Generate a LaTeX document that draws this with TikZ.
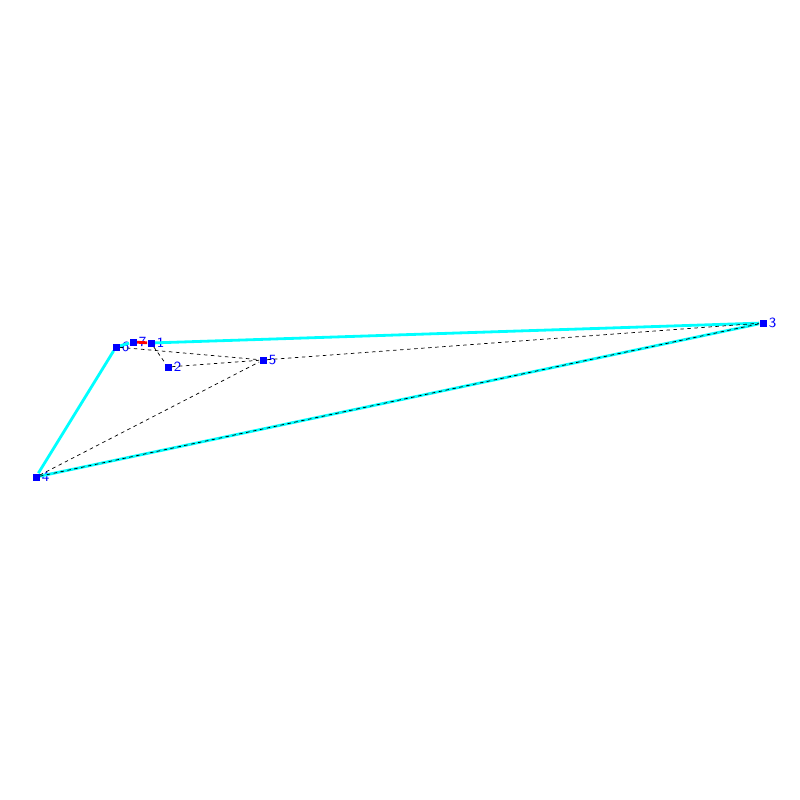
\documentclass[tikz,border=0pt]{standalone}
\usepackage{tikz}

\definecolor{hullcyan}{RGB}{0,255,255}
\definecolor{ptblue}{RGB}{0,0,255}
\definecolor{segred}{RGB}{255,0,0}

\tikzset{
  vert/.style={draw=none, fill=ptblue, minimum size=0.14cm, inner sep=0pt,
    label={[text=ptblue, font=\sffamily\footnotesize, inner sep=1pt]right:#1}},
  hull/.style={hullcyan, line width=1.6pt},
  diag/.style={black, line width=0.4pt, dash pattern=on 2pt off 2pt}
}

\begin{document}
\begin{tikzpicture}[x=0.02cm, y=-0.02cm]

  % frame
  \useasboundingbox (0,0) rectangle (800,800);

  % points
  \node[vert=1] (p1) at (151,343) {};
  \node[vert=2] (p2) at (168,367) {};
  \node[vert=3] (p3) at (763,323) {};
  \node[vert=4] (p4) at (36,477) {};
  \node[vert=5] (p5) at (263,360) {};
  \node[vert=6] (p6) at (116,347) {};
  \node[vert=7] (p7) at (133,342) {};

  % outer boundary
  \draw[hull] (p1) -- (p3) -- (p4) -- (p6) -- (p7);
  \draw[segred, line width=1.6pt] (p7) -- (p1);

  % inner edges
  \foreach \a/\b in {p6/p5, p1/p2, p2/p5, p4/p5, p5/p3, p4/p3}
    \draw[diag] (\a) -- (\b);

  % points on top
  \foreach \p in {p1,p2,p3,p4,p5,p6,p7}
    \fill[ptblue] ([shift={(-3.5,-3.5)}]\p.center) rectangle ([shift={(3.5,3.5)}]\p.center);

\end{tikzpicture}
\end{document}
